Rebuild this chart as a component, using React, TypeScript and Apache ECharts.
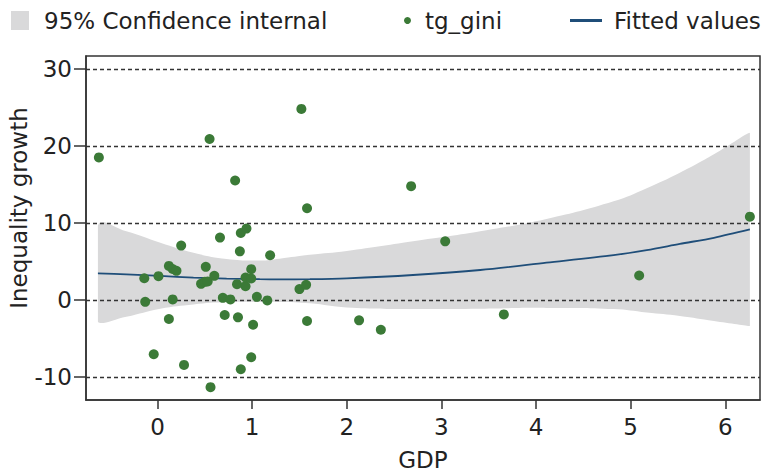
import React, { useEffect, useRef } from "react";
import * as echarts from "echarts";

// Scatter observations (GDP vs inequality growth)
const gdp = [-0.62, 0.55, 0.82, 1.58, -0.14, -0.13, 0.01, 0.12, 0.16, 0.2, 0.16, 0.12, 0.25, -0.04, 0.28, 0.51, 0.46, 0.5, 0.53, 0.6, 0.66, 0.69, 0.77, 0.71, 0.85, 0.87, 0.88, 0.94, 0.84, 0.93, 0.93, 0.99, 0.99, 1.05, 1.01, 0.99, 0.88, 0.56, 1.19, 1.16, 1.5, 1.57, 1.58, 1.52, 2.13, 2.36, 2.68, 3.04, 3.66, 5.09, 6.26];
const tgGini = [18.5, 20.9, 15.5, 11.9, 2.8, -0.26, 3.07, 4.4, 4.0, 3.76, 0.05, -2.5, 7.05, -7.07, -8.46, 4.28, 2.07, 2.33, 2.38, 3.11, 8.08, 0.26, 0.05, -1.98, -2.28, 6.3, 8.68, 9.25, 2.03, 1.77, 2.9, 3.98, 2.77, 0.39, -3.24, -7.46, -9.02, -11.35, 5.79, -0.08, 1.39, 1.94, -2.76, 24.8, -2.67, -3.89, 14.77, 7.6, -1.9, 3.16, 10.8];

// Fitted values and 95% confidence band, read along GDP
const fitX = [-0.63, -0.33, 0.03, 0.38, 0.73, 1.08, 1.29, 1.61, 2.0, 2.7, 3.41, 4.11, 4.82, 5.17, 5.52, 5.88, 6.26];
const fitted = [3.43, 3.3, 3.1, 2.88, 2.75, 2.68, 2.66, 2.68, 2.79, 3.22, 3.87, 4.82, 5.8, 6.45, 7.26, 8.06, 9.14];
const ciUpper = [9.65, 8.9, 7.4, 6.1, 5.3, 5.1, 5.35, 5.85, 6.35, 7.6, 8.9, 10.5, 12.8, 14.5, 16.5, 18.9, 21.7];
const ciLower = [-2.85, -2.2, -1.15, -0.6, -0.3, -0.28, -0.28, -0.45, -1.0, -1.2, -1.15, -1.05, -1.2, -1.65, -2.1, -2.75, -3.4];

const xTicks = [0, 1, 2, 3, 4, 5, 6];
const yTicks = [-10, 0, 10, 20, 30];

const FONT = '"DejaVu Sans", "Liberation Sans", Arial, sans-serif';
const TXT = "#222222";
const FRAME = "#333333";
const GREEN = "#3b7a37";
const BLUE = "#1f4e79";
const GREY = "#d9d9da";

export default function App() {
  const ref = useRef<HTMLDivElement>(null);
  useEffect(() => {
    if (!ref.current) return;
    const chart = echarts.init(ref.current, null, { renderer: "svg" });
    const bandRows = fitX.map((x, i) => [x, ciLower[i], ciUpper[i]]);
    chart.setOption({
      animation: false,
      backgroundColor: "#ffffff",
      textStyle: { fontFamily: FONT },
      grid: {
        left: 86,
        right: 4,
        top: 56,
        bottom: 75,
        show: true,
        borderColor: FRAME,
        borderWidth: 1.5,
        containLabel: false,
      },
      legend: [
        {
          left: 6,
          top: 4,
          selectedMode: false,
          itemWidth: 18,
          itemHeight: 19,
          textStyle: { fontSize: 23, color: TXT, fontFamily: FONT, padding: [0, 0, 0, 10] },
          data: [{ name: "95% Confidence internal", icon: "rect", itemStyle: { color: GREY, opacity: 1 } }],
        },
        {
          left: 399,
          top: 4,
          selectedMode: false,
          itemWidth: 7,
          itemHeight: 7,
          textStyle: { fontSize: 23, color: TXT, fontFamily: FONT, padding: [0, 0, 0, 9] },
          data: [{ name: "tg_gini", icon: "circle", itemStyle: { color: GREEN } }],
        },
        {
          left: 565,
          top: 4,
          selectedMode: false,
          itemWidth: 32,
          itemHeight: 3,
          textStyle: { fontSize: 23, color: TXT, fontFamily: FONT, padding: [0, 0, 0, 7] },
          data: [{ name: "Fitted values", icon: "rect", itemStyle: { color: BLUE } }],
        },
      ],
      xAxis: {
        type: "value",
        min: -0.756,
        max: 6.367,
        name: "GDP",
        nameLocation: "middle",
        nameGap: 48,
        nameTextStyle: { fontSize: 23, color: TXT, fontFamily: FONT },
        axisLine: { show: true, onZero: false, lineStyle: { color: FRAME, width: 1.5 } },
        axisTick: { show: true, length: 9, customValues: xTicks, lineStyle: { color: FRAME, width: 1.5 } },
        axisLabel: { customValues: xTicks, fontSize: 23, color: TXT, margin: 15, fontFamily: FONT },
        splitLine: { show: false },
      },
      yAxis: {
        type: "value",
        min: -13.02,
        max: 31.68,
        axisLine: { show: true, onZero: false, lineStyle: { color: FRAME, width: 1.5 } },
        axisTick: { show: true, length: 12, customValues: yTicks, lineStyle: { color: FRAME, width: 1.5 } },
        axisLabel: { customValues: yTicks, fontSize: 23, color: TXT, margin: 14, fontFamily: FONT },
        splitLine: { show: true, lineStyle: { color: FRAME, width: 1.3, type: [4, 3] } },
      },
      graphic: [
        {
          type: "text",
          x: 19,
          y: 208,
          rotation: Math.PI / 2,
          style: {
            text: "Inequality growth",
            font: `23px ${FONT}`,
            fill: TXT,
            textAlign: "center",
            textVerticalAlign: "middle",
            align: "center",
            verticalAlign: "middle",
          },
        },
      ],
      series: [
        {
          name: "95% Confidence internal",
          type: "custom",
          z: -1,
          silent: true,
          data: bandRows,
          encode: { x: 0, y: [1, 2] },
          itemStyle: { color: GREY },
          renderItem: (params: any, api: any) => {
            if (params.dataIndex !== 0) return null;
            const up = bandRows.map((r) => api.coord([r[0], r[2]]));
            const lo = bandRows.map((r) => api.coord([r[0], r[1]])).reverse();
            return {
              type: "polygon",
              shape: {
                points: up.concat(lo),
                smooth: 0.45,
                smoothConstraint: [
                  [Infinity, Infinity],
                  [-Infinity, -Infinity],
                ],
              },
              style: { fill: GREY, stroke: "none" },
            };
          },
        },
        {
          name: "Fitted values",
          type: "line",
          z: 3,
          smooth: 0.3,
          showSymbol: false,
          symbol: "none",
          data: fitX.map((x, i) => [x, fitted[i]]),
          lineStyle: { color: BLUE, width: 1.8 },
          itemStyle: { color: BLUE },
        },
        {
          name: "tg_gini",
          type: "scatter",
          z: 4,
          symbolSize: 10,
          data: gdp.map((x, i) => [x, tgGini[i]]),
          itemStyle: { color: GREEN, opacity: 1 },
        },
      ],
    });
    return () => chart.dispose();
  }, []);
  return (
    <div
      ref={ref}
      style={{ position: "absolute", left: 0, top: 0, width: 764, height: 476 }}
    />
  );
}
